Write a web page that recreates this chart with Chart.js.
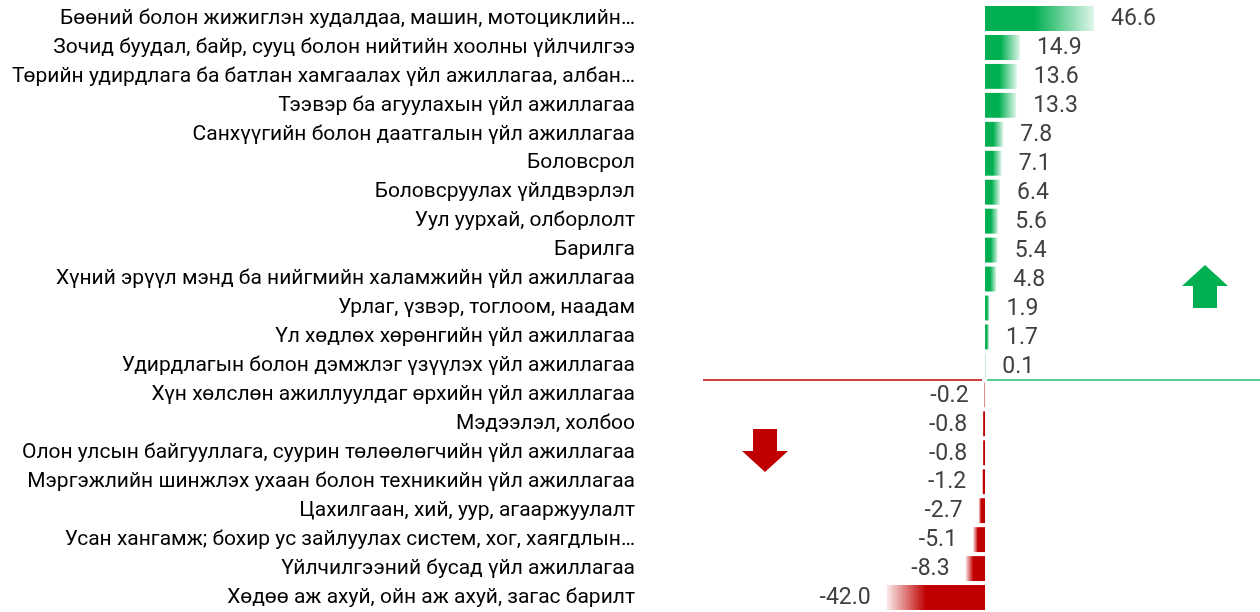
<!DOCTYPE html>
<html>
<head>
<meta charset="utf-8">
<script src="https://cdn.jsdelivr.net/npm/chart.js@4"></script>
<style>
    html, body { margin: 0; padding: 0; background: #ffffff; }
    #wrap { width: 1260px; height: 612px; }
</style>
</head>
<body>
<div id="wrap"><canvas id="changeChart" width="1260" height="612"></canvas></div>
<script>
// Sectors and change values
const sectors = [
    'Бөөний болон жижиглэн худалдаа, машин, мотоциклийн…',
    'Зочид буудал, байр, сууц болон нийтийн хоолны үйлчилгээ',
    'Төрийн удирдлага ба батлан хамгаалах үйл ажиллагаа, албан…',
    'Тээвэр ба агуулахын үйл ажиллагаа',
    'Санхүүгийн болон даатгалын үйл ажиллагаа',
    'Боловсрол',
    'Боловсруулах үйлдвэрлэл',
    'Уул уурхай, олборлолт',
    'Барилга',
    'Хүний эрүүл мэнд ба нийгмийн халамжийн үйл ажиллагаа',
    'Урлаг, үзвэр, тоглоом, наадам',
    'Үл хөдлөх хөрөнгийн үйл ажиллагаа',
    'Удирдлагын болон дэмжлэг үзүүлэх үйл ажиллагаа',
    'Хүн хөлслөн ажиллуулдаг өрхийн үйл ажиллагаа',
    'Мэдээлэл, холбоо',
    'Олон улсын байгууллага, суурин төлөөлөгчийн үйл ажиллагаа',
    'Мэргэжлийн шинжлэх ухаан болон техникийн үйл ажиллагаа',
    'Цахилгаан, хий, уур, агааржуулалт',
    'Усан хангамж; бохир ус зайлуулах систем, хог, хаягдлын…',
    'Үйлчилгээний бусад үйл ажиллагаа',
    'Хөдөө аж ахуй, ойн аж ахуй, загас барилт'
];
const changes = [46.6, 14.9, 13.6, 13.3, 7.8, 7.1, 6.4, 5.6, 5.4, 4.8, 1.9, 1.7, 0.1,
    -0.2, -0.8, -0.8, -1.2, -2.7, -5.1, -8.3, -42.0];

const GREEN = '#00B050';
const RED = '#C00000';

// bar fill fading towards the bar end
function barFill(context) {
    const chart = context.chart;
    const v = context.raw;
    const pos = v >= 0;
    const solid = pos ? GREEN : RED;
    if (!chart.chartArea || v == null) return solid;
    const x0 = chart.scales.x.getPixelForValue(0);
    const x1 = chart.scales.x.getPixelForValue(v);
    if (Math.abs(x1 - x0) < 2) return solid;
    const g = chart.ctx.createLinearGradient(x0, 0, x1, 0);
    g.addColorStop(0, solid);
    g.addColorStop(pos ? 0.45 : 0.6, solid);
    g.addColorStop(1, pos ? 'rgba(0,176,80,0.12)' : 'rgba(192,0,0,0.08)');
    return g;
}

// value labels, separator lines and arrows
const decorPlugin = {
    id: 'decor',
    afterDatasetsDraw(chart) {
        const ctx = chart.ctx;
        const x = chart.scales.x;
        const y = chart.scales.y;
        const meta = chart.getDatasetMeta(0);
        const x0 = x.getPixelForValue(0);

        ctx.save();
        ctx.font = '23px Roboto';
        ctx.fillStyle = '#404040';
        ctx.textBaseline = 'middle';
        meta.data.forEach((bar, i) => {
            const v = changes[i];
            const txt = v.toFixed(1);
            if (v >= 0) {
                ctx.textAlign = 'left';
                ctx.fillText(txt, bar.x + 17, bar.y + 1);
            } else {
                ctx.textAlign = 'right';
                ctx.fillText(txt, bar.x - 16, bar.y + 1);
            }
        });

        // separator between gains and losses
        const lastPos = changes.filter(v => v >= 0).length - 1;
        const ySep = Math.round((y.getPixelForValue(lastPos) + y.getPixelForValue(lastPos + 1)) / 2);
        ctx.lineWidth = 2;
        ctx.strokeStyle = 'rgba(192,0,0,0.75)';
        ctx.beginPath();
        ctx.moveTo(703, ySep);
        ctx.lineTo(x0 - 3, ySep);
        ctx.stroke();
        ctx.lineWidth = 1.5;
        ctx.strokeStyle = 'rgba(0,176,80,0.85)';
        ctx.beginPath();
        ctx.moveTo(x0 + 2, ySep);
        ctx.lineTo(chart.chartArea.right, ySep);
        ctx.stroke();

        // up arrow
        ctx.fillStyle = GREEN;
        ctx.beginPath();
        ctx.moveTo(1205, 265);
        ctx.lineTo(1228, 286);
        ctx.lineTo(1217, 286);
        ctx.lineTo(1217, 308);
        ctx.lineTo(1193, 308);
        ctx.lineTo(1193, 286);
        ctx.lineTo(1182, 286);
        ctx.closePath();
        ctx.fill();

        // down arrow
        ctx.fillStyle = RED;
        ctx.beginPath();
        ctx.moveTo(753, 429);
        ctx.lineTo(777, 429);
        ctx.lineTo(777, 451);
        ctx.lineTo(788, 451);
        ctx.lineTo(765, 472);
        ctx.lineTo(742, 451);
        ctx.lineTo(753, 451);
        ctx.closePath();
        ctx.fill();
        ctx.restore();
    }
};

function initChart() {
    const ctx = document.getElementById('changeChart').getContext('2d');
    new Chart(ctx, {
        type: 'bar',
        data: {
            labels: sectors,
            datasets: [{
                data: changes,
                backgroundColor: barFill,
                borderWidth: 0,
                barPercentage: 0.86,
                categoryPercentage: 1
            }]
        },
        plugins: [decorPlugin],
        options: {
            indexAxis: 'y',
            responsive: false,
            animation: false,
            layout: { padding: { top: 4, bottom: -2, left: 0, right: 0 } },
            scales: {
                x: {
                    display: false,
                    min: -145.3,
                    max: 117.5
                },
                y: {
                    afterFit(scale) {
                        scale.width = 645;
                        scale.paddingTop = 0;
                        scale.paddingBottom = 0;
                    },
                    grid: { display: false, drawTicks: false },
                    border: { display: false },
                    ticks: {
                        color: '#000000',
                        padding: 10,
                        autoSkip: false,
                        font: { family: 'Roboto', size: 21 }
                    }
                }
            },
            plugins: {
                legend: { display: false },
                tooltip: { enabled: false }
            }
        }
    });
}

if (document.readyState === 'loading') {
    document.addEventListener('DOMContentLoaded', initChart);
} else {
    initChart();
}
</script>
</body>
</html>
